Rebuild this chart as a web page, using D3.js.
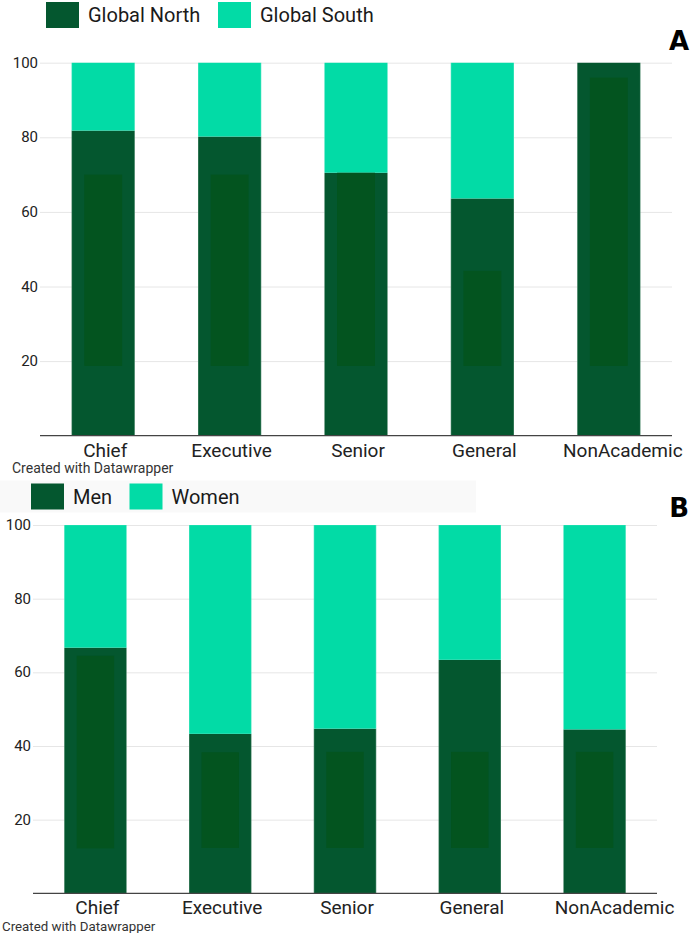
<!DOCTYPE html>
<html>
<head>
<meta charset="utf-8">
<script src="https://cdn.jsdelivr.net/npm/d3@7"></script>
<style>
  html, body { margin: 0; padding: 0; background: #ffffff; }
  svg { display: block; font-family: Roboto, "Noto Sans", sans-serif; }
</style>
</head>
<body>
<svg id="chart" width="690" height="933"></svg>
<script>
// ---------- data ----------
const categories = ["Chief", "Executive", "Senior", "General", "NonAcademic"];
const yTicks = [20, 40, 60, 80, 100];

// Panel A: share Global North / Global South (%)
const seriesA = ["Global North", "Global South"];
const globalNorth = [81.8, 80.2, 70.5, 63.6, 100];
const shadeALow  = [18.7, 18.7, 18.7, 18.7, 18.7];
const shadeAHigh = [70.0, 70.0, 70.5, 44.2, 96.0];

// Panel B: share Men / Women (%)
const seriesB = ["Men", "Women"];
const men = [66.7, 43.3, 44.7, 63.4, 44.5];
const shadeBLow  = [12.2, 12.3, 12.3, 12.3, 12.3];
const shadeBHigh = [64.5, 38.3, 38.4, 38.4, 38.4];

const creditText = "Created with Datawrapper";

// ---------- styles ----------
const DARK = "#04572f";
const SHADE = "#03541f";
const TEAL = "#02dba6";

const svg = d3.select("#chart");

function panel(cfg) {
  const g = svg.append("g");
  const x = d3.scaleBand().domain(categories).range([cfg.x0, cfg.x1])
    .paddingInner(0.5).paddingOuter(0.25);
  const y = d3.scaleLinear().domain([0, 100]).range([cfg.yBase, cfg.yTop]);

  if (cfg.legendBg) {
    g.append("rect").attr("x", 0).attr("y", cfg.legendY - 3)
      .attr("width", 476).attr("height", 32).attr("fill", "#f9f9f9");
  }

  // gridlines
  g.append("g").selectAll("line").data(yTicks).join("line")
    .attr("x1", cfg.x0).attr("x2", cfg.x1)
    .attr("y1", d => y(d) + 0.5).attr("y2", d => y(d) + 0.5)
    .attr("stroke", "#e6e6e6").attr("stroke-width", 1);

  // y tick labels
  g.append("g").selectAll("text").data(yTicks).join("text")
    .attr("x", cfg.x0 - 2).attr("y", d => y(d) + 5)
    .attr("text-anchor", "end").attr("font-size", 15).attr("fill", "#222")
    .text(d => d);

  const rows = categories.map((c, i) => ({
    cat: c, a: cfg.values[i], lo: cfg.shadeLow[i], hi: Math.min(cfg.shadeHigh[i], cfg.values[i])
  }));

  // bottom segments
  g.append("g").selectAll("rect").data(rows).join("rect")
    .attr("x", d => x(d.cat)).attr("width", x.bandwidth())
    .attr("y", d => y(d.a)).attr("height", d => y(0) - y(d.a))
    .attr("fill", DARK);
  // top segments
  g.append("g").selectAll("rect").data(rows.filter(d => d.a < 100)).join("rect")
    .attr("x", d => x(d.cat)).attr("width", x.bandwidth())
    .attr("y", y(100)).attr("height", d => y(d.a) - y(100))
    .attr("fill", TEAL);
  // subtle inner shading
  g.append("g").selectAll("rect").data(rows).join("rect")
    .attr("x", d => x(d.cat) + x.bandwidth() * 0.2).attr("width", x.bandwidth() * 0.6)
    .attr("y", d => y(d.hi)).attr("height", d => y(d.lo) - y(d.hi))
    .attr("fill", SHADE);
  // thin light bar edges
  g.append("g").selectAll("rect").data(rows).join("rect")
    .attr("x", d => x(d.cat) + 0.25).attr("width", x.bandwidth() - 0.5)
    .attr("y", y(100)).attr("height", y(0) - y(100))
    .attr("fill", "none").attr("stroke", "rgba(255,255,255,0.35)").attr("stroke-width", 0.5);

  // baseline axis
  g.append("line").attr("x1", cfg.x0).attr("x2", cfg.x1)
    .attr("y1", y(0)).attr("y2", y(0)).attr("stroke", "#444").attr("stroke-width", 1.2);

  // x labels
  g.append("g").selectAll("text").data(categories).join("text")
    .attr("x", (d, i) => x(d) + x.bandwidth() / 2 + (i === categories.length - 1 ? cfg.lastDx : 2))
    .attr("y", cfg.labelY).attr("text-anchor", "middle")
    .attr("font-size", 19).attr("fill", "#222").text(d => d);

  // credit
  g.append("text").attr("x", cfg.creditX).attr("y", cfg.creditY)
    .attr("font-size", cfg.creditSize).attr("fill", "#333").text(creditText);

  // legend
  const colors = [DARK, TEAL];
  cfg.series.forEach((s, i) => {
    g.append("rect").attr("x", cfg.legendX[i]).attr("y", cfg.legendY)
      .attr("width", cfg.swatchW).attr("height", 26).attr("fill", colors[i]);
    g.append("text").attr("x", cfg.legendX[i] + cfg.swatchW + 9).attr("y", cfg.legendY + 20)
      .attr("font-size", 20).attr("fill", "#1a1a1a").text(s);
  });

  // panel letter
  g.append("text").attr("x", 689).attr("y", cfg.letterY).attr("text-anchor", "end")
    .attr("font-size", 26).attr("font-weight", 900)
    .attr("font-family", "'DejaVu Sans', sans-serif").attr("fill", "#000").text(cfg.letter);
}

panel({
  x0: 40, x1: 672, yBase: 435.7, yTop: 62.7,
  values: globalNorth, shadeLow: shadeALow, shadeHigh: shadeAHigh,
  series: seriesA, legendX: [46, 218], legendY: 2, swatchW: 33, legendBg: false,
  labelY: 457, lastDx: 14, creditX: 12, creditY: 473, creditSize: 14,
  letter: "A", letterY: 50
});

panel({
  x0: 33, x1: 657, yBase: 893.3, yTop: 525,
  values: men, shadeLow: shadeBLow, shadeHigh: shadeBHigh,
  series: seriesB, legendX: [31, 129.5], legendY: 483.5, swatchW: 33, legendBg: true,
  labelY: 914, lastDx: 20, creditX: 2, creditY: 930.5, creditSize: 13.3,
  letter: "B", letterY: 517
});
</script>
</body>
</html>
